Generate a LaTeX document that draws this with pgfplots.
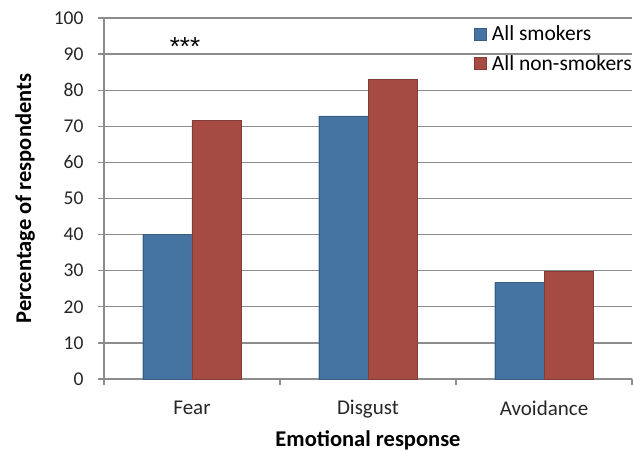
\documentclass[border=0pt]{standalone}
\usepackage{pgfplots}
\pgfplotsset{compat=1.18}
\usepackage{fontspec}
\setmainfont{Carlito}
\newfontfamily\astfont{Liberation Sans}
\definecolor{sblue}{RGB}{70,116,162}
\definecolor{sred}{RGB}{166,74,68}
\definecolor{gridgray}{RGB}{140,140,140}
\begin{document}
\begin{tikzpicture}
\useasboundingbox (-104pt,-72pt) rectangle (530pt,379pt);
\begin{axis}[
  at={(0,0)}, anchor=south west,
  scale only axis, width=528pt, height=361pt,
  xmin=-0.5, xmax=2.5, ymin=0, ymax=100,
  axis lines*=left,
  axis line style={gridgray, line width=1.3pt},
  ytick={0,10,...,100},
  ymajorgrids, grid style={gridgray, line width=1.3pt},
  xtick={0,1,2}, xticklabels={Fear,Disgust,Avoidance},
  minor xtick={-0.5,0.5,1.5,2.5},
  tick align=outside,
  major tick length=6pt, minor tick length=6pt,
  tick style={gridgray, line width=1.3pt},
  x tick style={draw=none},
  minor x tick style={draw=gridgray, line width=1.3pt},
  /pgf/number format/assume math mode=true,
  yticklabel style={font=\fontsize{19.5}{19.5}\selectfont, text=black!85, xshift=-11pt},
  xticklabel style={font=\fontsize{21}{21}\selectfont, text=black!85, yshift=-12pt},
  xlabel={\textbf{Emotional response}},
  ylabel={\textbf{Percentage of respondents}},
  label style={font=\fontsize{22.5}{22.5}\selectfont},
  xlabel style={yshift=-5pt},
  ylabel style={yshift=12pt},
  legend style={draw=none, fill=none, at={(1,0.99)}, anchor=north east, xshift=2pt,
    font=\fontsize{21.5}{21.5}\selectfont, row sep=9pt, inner xsep=0pt,
    legend cell align=left},
  legend image code/.code={\fill[#1] (0pt,-5.8pt) rectangle (11.6pt,5.8pt); \path (15pt,0pt);},
]
\addplot[ybar, bar width=0.28, bar shift=-0.14, fill=sblue, draw=sblue!80!black] coordinates {(0,40.0) (1,72.9) (2,26.7)};
\addlegendentry{All smokers}
\addplot[ybar, bar width=0.28, bar shift=0.14, fill=sred, draw=sred!80!black] coordinates {(0,71.6) (1,83.0) (2,29.8)};
\addlegendentry{All non-smokers}
\node[font=\astfont\fontsize{26}{26}\selectfont, inner sep=0pt] at (axis cs:-0.04,92.0) {***};
\end{axis}
\end{tikzpicture}
\end{document}
